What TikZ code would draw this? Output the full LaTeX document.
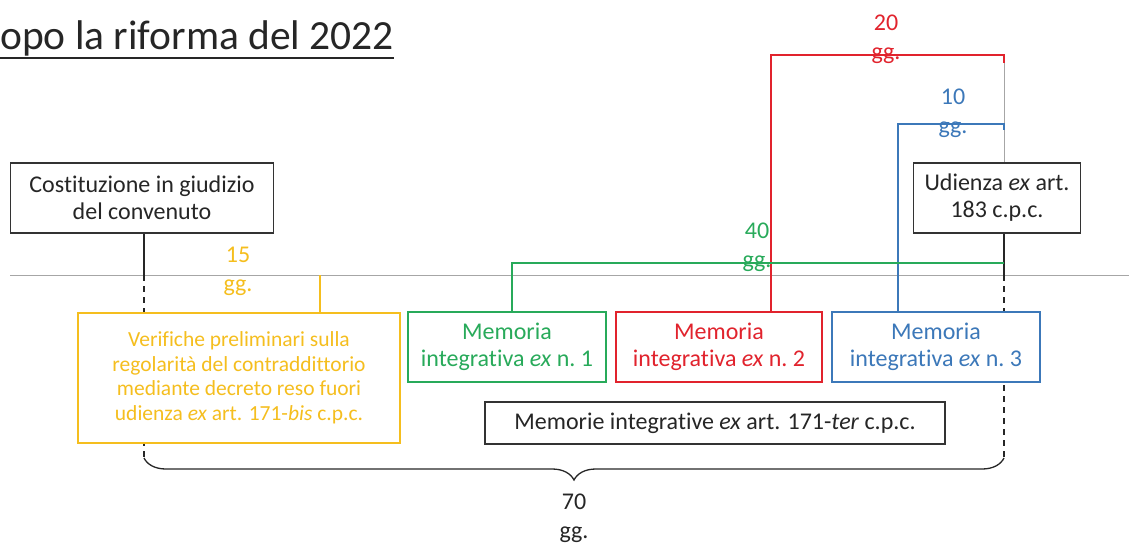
\documentclass[tikz,border=0pt]{standalone}
\usepackage{fontspec}
\setmainfont[Ligatures=NoCommon]{Carlito}
\usetikzlibrary{decorations.pathreplacing,backgrounds}
\definecolor{vgreen}{RGB}{40,170,90}
\definecolor{vred}{RGB}{225,35,45}
\definecolor{vblue}{RGB}{60,120,185}
\definecolor{vyellow}{RGB}{245,190,30}
\tikzset{
	box/.style={draw=black!80, text=black!85, line width=1.3pt, fill=white, align=center, inner sep=0pt},
	vline/.style={draw=black!85, line width=1.3pt},
	dashline/.style={vline, dash pattern=on 6pt off 5pt},
	gline/.style={draw=black!35, line width=1pt},
	gglbl/.style={align=center, inner sep=0pt, font=\fontsize{24}{29}\selectfont},
}
\begin{document}
\begin{tikzpicture}[x=1pt, y=-1pt, font=\fontsize{24}{27}\selectfont]
	\useasboundingbox (0,0) rectangle (1129,543);
	\node[anchor=base west, inner sep=0pt, text=black!85, font=\fontsize{41.5}{48}\selectfont] (title) at (0,50) {opo la riforma del 2022};
	\draw[black!85, line width=1.5pt] (0,58) -- (title.east |- 0,58);
	% boxes
	\node[box, minimum width=263, minimum height=70] (cost) at (142,198) {Costituzione in giudizio\\del convenuto};
	\node[box, minimum width=167, minimum height=70] (udienza) at (997,198) {Udienza \textit{ex} art.\\183 c.p.c.};
	\node[box, draw=vyellow, text=vyellow, minimum width=322, minimum height=130, font=\fontsize{21.5}{24.5}\selectfont] (verif) at (239,378) {Verifiche preliminari sulla\\regolarità del contraddittorio\\mediante decreto reso fuori\\udienza \textit{ex} art. 171-\textit{bis} c.p.c.};
	\foreach \i/\x/\w/\col in {1/507/198/vgreen, 2/719/206/vred, 3/936/208/vblue}
		\node[box, draw=\col, text=\col, minimum width=\w, minimum height=70] (mem\i) at (\x,347) {Memoria\\integrativa \textit{ex} n.~\i};
	\node[box, minimum width=460, minimum height=42] (memorie) at (715,423) {Memorie integrative \textit{ex} art. 171-\textit{ter} c.p.c.};
	% points
	\coordinate (base l) at (10,275);
	\coordinate (base r) at (1129,275);
	\coordinate (bl) at (144,458);
	\coordinate (br) at (1004,458);
	\coordinate (rtop) at (771,55);
	\coordinate (btop) at (898,124);
	\coordinate (gtop) at (512,263);
	\coordinate (ytop) at (320,275);
	\begin{scope}[on background layer]
		\draw[gline] (base l) -- (base r);
		\draw[vline] (cost.south -| bl) -- (bl |- base l);
		\draw[dashline] (bl |- base l) -- (bl);
		\draw[vline] (udienza.south -| br) -- (br |- base l);
		\draw[dashline] (br |- base l) -- (br);
		\draw[gline] (br |- rtop) -- (udienza.north -| br);
		\draw[vred, line width=1.3pt] (mem2.north -| rtop) |- (br |- rtop) -- ++(0,8);
		\draw[vblue, line width=1.3pt] (mem3.north -| btop) |- (br |- btop) -- ++(0,6);
		\draw[vgreen, line width=1.3pt] (mem1.north -| gtop) |- (br |- gtop);
		\draw[vyellow, line width=1.3pt] (verif.north -| ytop) -- (ytop);
	\end{scope}
	% labels
	\node[gglbl, text=vred] (lbl20) at (886,39) {20\\gg.};
	\node[gglbl, text=vblue] (lbl10) at (953,113) {10\\gg.};
	\node[gglbl, text=vgreen] (lbl40) at (757,247) {40\\gg.};
	\node[gglbl, text=vyellow] (lbl15) at (238,271) {15\\gg.};
	\node[gglbl, text=black!85] (lbl70) at (574,518) {70\\gg.};
	\draw[vline, decorate, decoration={brace, mirror, amplitude=22}] (bl) -- (br);
\end{tikzpicture}
\end{document}
